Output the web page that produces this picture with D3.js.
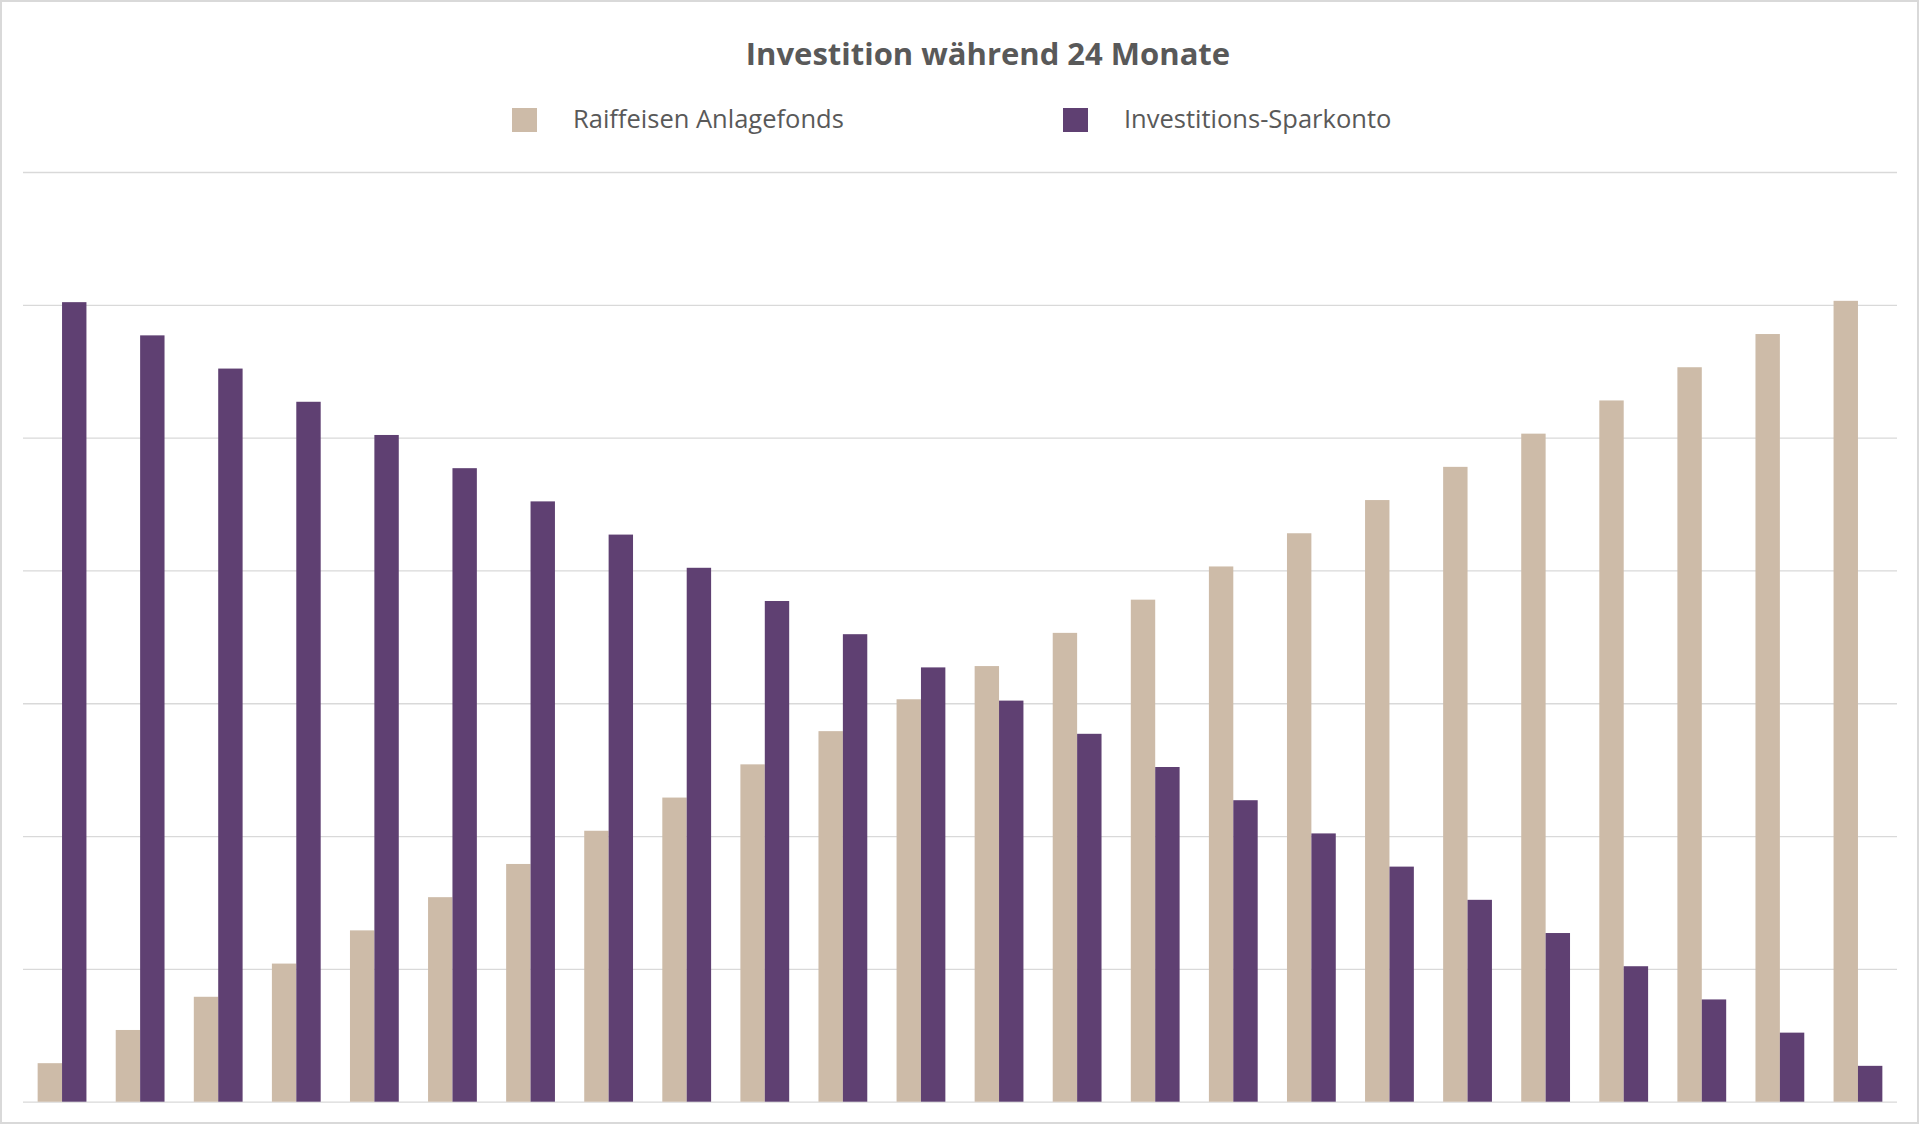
<!DOCTYPE html>
<html>
<head>
<meta charset="utf-8">
<script src="https://cdn.jsdelivr.net/npm/d3@7"></script>
<style>
	html, body { margin: 0; padding: 0; background: #fff; }
	svg text { font-family: "Open Sans", sans-serif; fill: #595959; }
</style>
</head>
<body>
<svg id="chart" width="1920" height="1125"></svg>
<script>
// 24 Monate, keine Achsenbeschriftung im Original
var months = d3.range(1, 25).map(String)
var seriesNames = ["Raiffeisen Anlagefonds", "Investitions-Sparkonto"]
var seriesColors = ["#cdbba8", "#5f4072"]

// values (gridline step = 1000)
var fondsValues = [290, 540, 790, 1040, 1290, 1540, 1790, 2040, 2290, 2540, 2790, 3030,
	3280, 3530, 3780, 4030, 4280, 4530, 4780, 5030, 5280, 5530, 5780, 6030]
var sparkontoValues = [6020, 5770, 5520, 5270, 5020, 4770, 4520, 4270, 4020, 3770, 3520, 3270,
	3020, 2770, 2520, 2270, 2020, 1770, 1520, 1270, 1020, 770, 520, 270]
var gridTicks = [0, 1000, 2000, 3000, 4000, 5000, 6000, 7000]

var svg = d3.select("#chart")

// outer frame
svg.append("rect")
	.attr("x", 1).attr("y", 1)
	.attr("width", 1917).attr("height", 1122)
	.attr("fill", "none")
	.attr("stroke", "#d9d9d9")
	.attr("stroke-width", 2)

var plotLeft = 23, plotRight = 1897, plotTop = 172, plotBottom = 1101.7

var x0 = d3.scaleBand()
	.domain(months)
	.range([plotLeft, plotRight])
	.paddingInner(0.375)
	.paddingOuter(0.1875)

var x1 = d3.scaleBand()
	.domain(seriesNames)
	.range([0, x0.bandwidth()])

var y = d3.scaleLinear()
	.domain([0, 7000])
	.range([plotBottom, plotTop])

// gridlines
var grid = svg.append("g")
	.attr("transform", "translate(" + plotLeft + ",0)")
	.call(d3.axisLeft(y).tickValues(gridTicks).tickSize(-(plotRight - plotLeft)).tickFormat(""))
grid.select(".domain").remove()
grid.selectAll(".tick line")
	.attr("stroke", "#d9d9d9")
	.attr("stroke-width", 1.3)

var rows = months.map(function(m, i) {
	return { month: m, values: [fondsValues[i], sparkontoValues[i]] }
})

var groups = svg.append("g").selectAll("g")
	.data(rows)
	.join("g")
	.attr("transform", function(d) { return "translate(" + x0(d.month) + ",0)" })

groups.selectAll("rect")
	.data(function(d) { return d.values.map(function(v, k) { return { key: seriesNames[k], value: v, k: k } }) })
	.join("rect")
	.attr("x", function(d) { return x1(d.key) })
	.attr("width", x1.bandwidth())
	.attr("y", function(d) { return y(d.value) })
	.attr("height", function(d) { return y(0) - y(d.value) })
	.attr("fill", function(d) { return seriesColors[d.k] })

// title
svg.append("text")
	.attr("x", 988)
	.attr("y", 65)
	.attr("text-anchor", "middle")
	.style("font-size", "31px")
	.style("font-weight", "bold")
	.text("Investition während 24 Monate")

// legend
var legendX = [512, 1063]
var legend = svg.append("g").selectAll("g")
	.data(seriesNames)
	.join("g")
	.attr("transform", function(d, i) { return "translate(" + legendX[i] + ",108)" })
legend.append("rect")
	.attr("width", 25).attr("height", 24)
	.attr("fill", function(d, i) { return seriesColors[i] })
legend.append("text")
	.attr("x", 61)
	.attr("y", 20.3)
	.style("font-size", "25.5px")
	.text(function(d) { return d })
</script>
</body>
</html>
